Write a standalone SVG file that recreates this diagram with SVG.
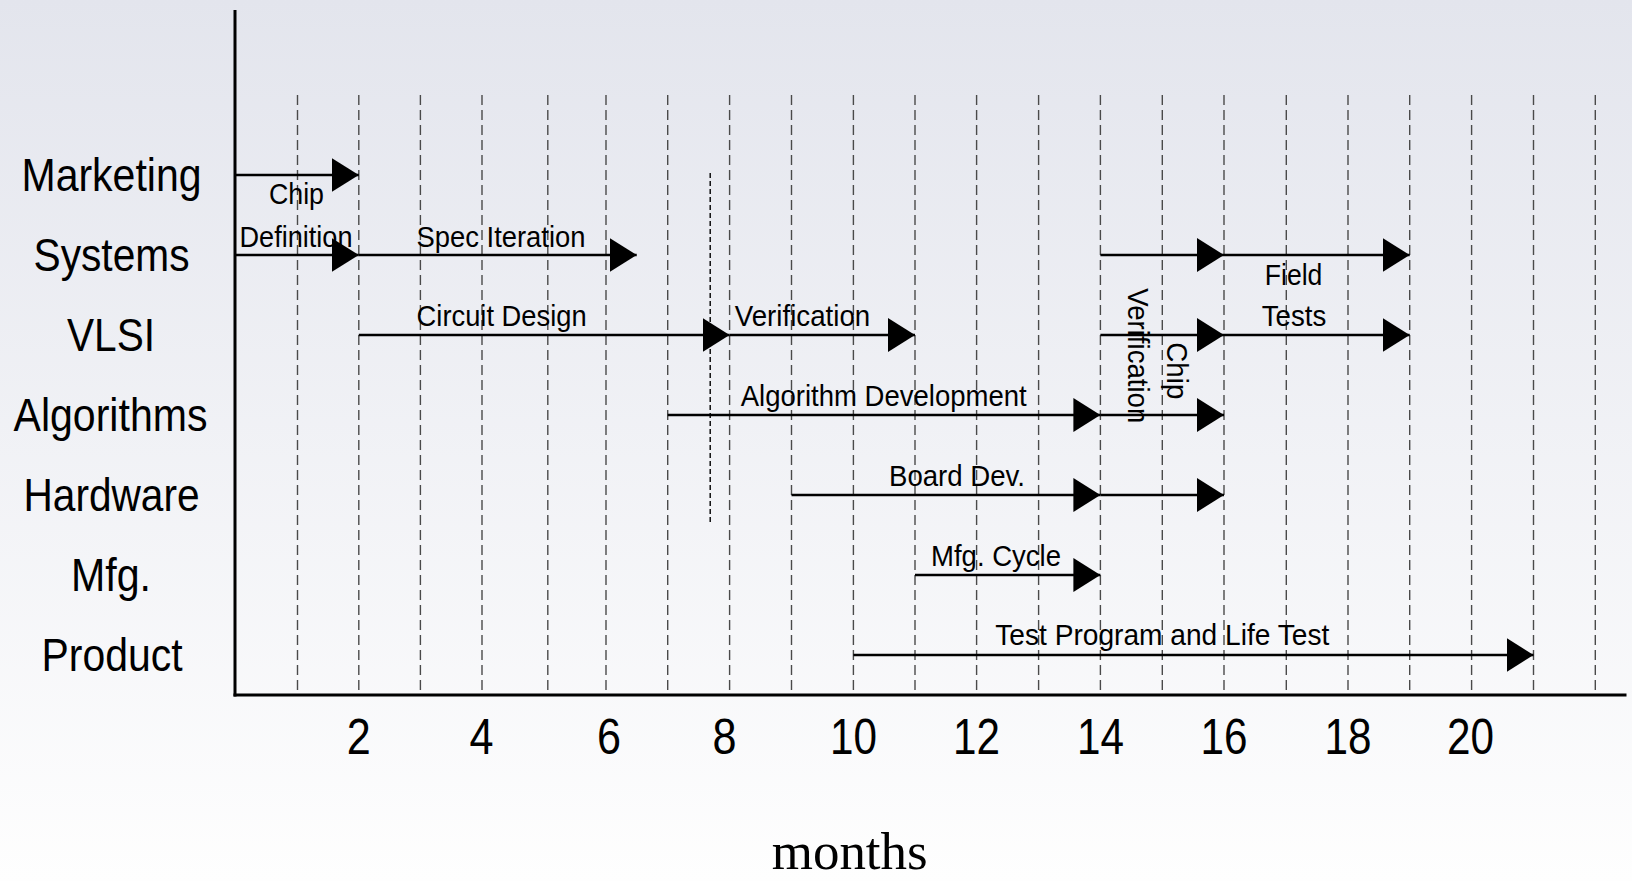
<svg xmlns="http://www.w3.org/2000/svg" width="1632" height="881" viewBox="0 0 1632 881">
  <defs>
    <linearGradient id="bg" x1="0" y1="0" x2="0" y2="1">
      <stop offset="0" stop-color="#E3E5ED"/>
      <stop offset="1" stop-color="#FEFEFE"/>
    </linearGradient>
    <marker id="ah" viewBox="0 0 27 34" refX="27" refY="17" markerWidth="27" markerHeight="34" markerUnits="userSpaceOnUse" orient="auto">
      <path d="M0,0 L27,17 L0,34 Z" fill="#000"/>
    </marker>
  </defs>
  <style>
    .grid { stroke: #4a4a4a; stroke-width: 1.4; stroke-dasharray: 10 5; fill: none; }
    .fine { stroke: #000; stroke-width: 1.4; stroke-dasharray: 5 3; fill: none; }
    .axis { stroke: #000; stroke-width: 3; fill: none; }
    .arr { stroke: #000; stroke-width: 2.6; fill: none; marker-end: url(#ah); }
    .row { font-family: "Liberation Sans", Arial, sans-serif; font-size: 46px; fill: #000; text-anchor: middle; }
    .lbl { font-family: "Liberation Sans", Arial, sans-serif; font-size: 30px; fill: #000; text-anchor: middle; }
    .num { font-family: "Liberation Sans", Arial, sans-serif; font-size: 50px; fill: #000; text-anchor: middle; }
    .unit { font-family: "Liberation Serif", "Times New Roman", serif; font-size: 52px; fill: #000; text-anchor: middle; }
  </style>
  <rect x="0" y="0" width="1632" height="881" fill="url(#bg)"/>

  <g id="grid">
    <line class="grid" x1="297.5" y1="95" x2="297.5" y2="695"/>
    <line class="grid" x1="358.8" y1="95" x2="358.8" y2="695"/>
    <line class="grid" x1="420.4" y1="95" x2="420.4" y2="695"/>
    <line class="grid" x1="482" y1="95" x2="482" y2="695"/>
    <line class="grid" x1="547.8" y1="95" x2="547.8" y2="695"/>
    <line class="grid" x1="606" y1="95" x2="606" y2="695"/>
    <line class="grid" x1="667.7" y1="95" x2="667.7" y2="695"/>
    <line class="grid" x1="729.6" y1="95" x2="729.6" y2="695"/>
    <line class="grid" x1="791.5" y1="95" x2="791.5" y2="695"/>
    <line class="grid" x1="853.4" y1="95" x2="853.4" y2="695"/>
    <line class="grid" x1="915" y1="95" x2="915" y2="695"/>
    <line class="grid" x1="976.6" y1="95" x2="976.6" y2="695"/>
    <line class="grid" x1="1038.6" y1="95" x2="1038.6" y2="695"/>
    <line class="grid" x1="1100.4" y1="95" x2="1100.4" y2="695"/>
    <line class="grid" x1="1162.3" y1="95" x2="1162.3" y2="695"/>
    <line class="grid" x1="1224" y1="95" x2="1224" y2="695"/>
    <line class="grid" x1="1286.3" y1="95" x2="1286.3" y2="695"/>
    <line class="grid" x1="1348" y1="95" x2="1348" y2="695"/>
    <line class="grid" x1="1409.7" y1="95" x2="1409.7" y2="695"/>
    <line class="grid" x1="1471.6" y1="95" x2="1471.6" y2="695"/>
    <line class="grid" x1="1533.5" y1="95" x2="1533.5" y2="695"/>
    <line class="grid" x1="1595.3" y1="95" x2="1595.3" y2="695"/>
    <line class="fine" x1="710.2" y1="173" x2="710.2" y2="523"/>
  </g>

  <g id="axes">
    <line class="axis" x1="235" y1="10" x2="235" y2="696.5"/>
    <line class="axis" x1="233.5" y1="695" x2="1626.5" y2="695"/>
  </g>

  <g id="row-labels">
    <text id="marketing" class="row" x="111.5" y="191" textLength="180" lengthAdjust="spacingAndGlyphs">Marketing</text>
    <text id="systems" class="row" x="111.5" y="271" textLength="156" lengthAdjust="spacingAndGlyphs">Systems</text>
    <text id="vlsi" class="row" x="111" y="351" textLength="88" lengthAdjust="spacingAndGlyphs">VLSI</text>
    <text id="algorithms" class="row" x="110.5" y="431" textLength="194" lengthAdjust="spacingAndGlyphs">Algorithms</text>
    <text id="hardware" class="row" x="111.5" y="511" textLength="176" lengthAdjust="spacingAndGlyphs">Hardware</text>
    <text id="mfg" class="row" x="111" y="591" textLength="80" lengthAdjust="spacingAndGlyphs">Mfg.</text>
    <text id="product" class="row" x="112" y="671" textLength="141" lengthAdjust="spacingAndGlyphs">Product</text>
  </g>

  <g id="connectors">
    <line class="arr" x1="235" y1="175" x2="358.8" y2="175"/>
    <line class="arr" x1="235" y1="255" x2="358.8" y2="255"/>
    <line class="arr" x1="358.8" y1="255" x2="636.7" y2="255"/>
    <line class="arr" x1="1100.4" y1="255" x2="1224" y2="255"/>
    <line class="arr" x1="1224" y1="255" x2="1409.7" y2="255"/>
    <line class="arr" x1="358.8" y1="335" x2="729.6" y2="335"/>
    <line class="arr" x1="729.6" y1="335" x2="915" y2="335"/>
    <line class="arr" x1="1100.4" y1="335" x2="1224" y2="335"/>
    <line class="arr" x1="1224" y1="335" x2="1409.7" y2="335"/>
    <line class="arr" x1="667.7" y1="415" x2="1100.4" y2="415"/>
    <line class="arr" x1="1100.4" y1="415" x2="1224" y2="415"/>
    <line class="arr" x1="791.5" y1="495" x2="1100.4" y2="495"/>
    <line class="arr" x1="1100.4" y1="495" x2="1224" y2="495"/>
    <line class="arr" x1="915" y1="575" x2="1100.4" y2="575"/>
    <line class="arr" x1="853.4" y1="655" x2="1533.5" y2="655"/>
  </g>

  <g id="task-labels">
    <text id="chip-def-1" class="lbl" x="296.5" y="204" textLength="55" lengthAdjust="spacingAndGlyphs">Chip</text>
    <text id="chip-def-2" class="lbl" x="296" y="246.5" textLength="113" lengthAdjust="spacingAndGlyphs">Definition</text>
    <text id="spec" class="lbl" x="501" y="246.5" textLength="169" lengthAdjust="spacingAndGlyphs">Spec Iteration</text>
    <text id="circuit" class="lbl" x="501.6" y="326" textLength="170" lengthAdjust="spacingAndGlyphs">Circuit Design</text>
    <text id="verif" class="lbl" x="802.5" y="325.7" textLength="135.5" lengthAdjust="spacingAndGlyphs">Verification</text>
    <text id="algdev" class="lbl" x="883.7" y="405.5" textLength="286" lengthAdjust="spacingAndGlyphs">Algorithm Development</text>
    <text id="board" class="lbl" x="957" y="485.5" textLength="136" lengthAdjust="spacingAndGlyphs">Board Dev.</text>
    <text id="mfgcycle" class="lbl" x="996" y="565.5" textLength="130" lengthAdjust="spacingAndGlyphs">Mfg. Cycle</text>
    <text id="testprog" class="lbl" x="1162.3" y="645" textLength="334" lengthAdjust="spacingAndGlyphs">Test Program and Life Test</text>
    <text id="field" class="lbl" x="1293.6" y="284.5" textLength="57.6" lengthAdjust="spacingAndGlyphs">Field</text>
    <text id="tests" class="lbl" x="1294" y="326" textLength="64.5" lengthAdjust="spacingAndGlyphs">Tests</text>
    <text id="chipver-1" class="lbl" transform="translate(1166.7,370.8) rotate(90)" x="0" y="0" textLength="57" lengthAdjust="spacingAndGlyphs">Chip</text>
    <text id="chipver-2" class="lbl" transform="translate(1127.5,355.8) rotate(90)" x="0" y="0" textLength="135" lengthAdjust="spacingAndGlyphs">Verification</text>
  </g>

  <g id="ticks">
    <text class="num" x="358.8" y="754" textLength="24" lengthAdjust="spacingAndGlyphs">2</text>
    <text class="num" x="481.5" y="754" textLength="24" lengthAdjust="spacingAndGlyphs">4</text>
    <text class="num" x="609" y="754" textLength="24" lengthAdjust="spacingAndGlyphs">6</text>
    <text class="num" x="724.5" y="754" textLength="24" lengthAdjust="spacingAndGlyphs">8</text>
    <text class="num" x="853.6" y="754" textLength="47" lengthAdjust="spacingAndGlyphs">10</text>
    <text class="num" x="976.5" y="754" textLength="47" lengthAdjust="spacingAndGlyphs">12</text>
    <text class="num" x="1100.5" y="754" textLength="47" lengthAdjust="spacingAndGlyphs">14</text>
    <text class="num" x="1224" y="754" textLength="47" lengthAdjust="spacingAndGlyphs">16</text>
    <text class="num" x="1348" y="754" textLength="47" lengthAdjust="spacingAndGlyphs">18</text>
    <text class="num" x="1470.5" y="754" textLength="47" lengthAdjust="spacingAndGlyphs">20</text>
  </g>

  <text id="months" class="unit" x="849.7" y="869" textLength="156" lengthAdjust="spacingAndGlyphs">months</text>
</svg>
